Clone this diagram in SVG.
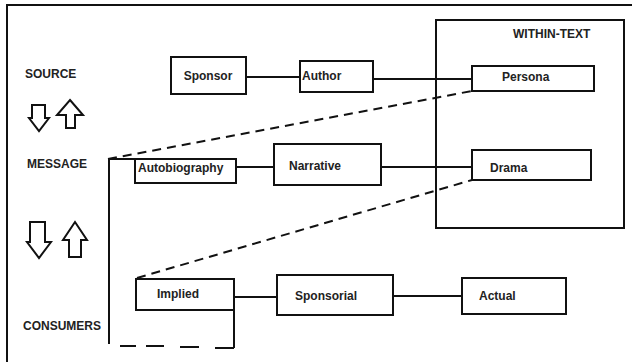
<svg xmlns="http://www.w3.org/2000/svg" width="632" height="362" viewBox="0 0 632 362">
<style>
.box{fill:#fff;stroke:#111;stroke-width:2}
.ln{fill:none;stroke:#111;stroke-width:2}
.dash{fill:none;stroke:#111;stroke-width:2;stroke-dasharray:9 6}
.t{font-family:"Liberation Sans",Arial,sans-serif;font-weight:bold;font-size:12px;fill:#222}
.arr{fill:#fff;stroke:#111;stroke-width:2;stroke-linejoin:miter}
</style>
<rect width="632" height="362" fill="#fff"/>
<path class="ln" d="M7,362 V5 H632" stroke-width="1.5"/>
<g id="within-text">
<rect x="436" y="20" width="188" height="208" style="fill:none;stroke:#111;stroke-width:2"/>
<text class="t" x="513" y="38">WITHIN-TEXT</text>
</g>
<g id="connectors">
<line class="ln" x1="246" y1="77" x2="300" y2="77"/>
<line class="ln" x1="373" y1="79" x2="472" y2="79"/>
<line class="ln" x1="236" y1="167" x2="274" y2="167"/>
<line class="ln" x1="381" y1="167" x2="472" y2="167"/>
<line class="ln" x1="234" y1="297" x2="277" y2="297"/>
<line class="ln" x1="393" y1="296" x2="462" y2="296"/>
<path class="dash" d="M108,159 L472,91"/>
<path class="dash" d="M137,278 L472,180"/>
<path class="ln" d="M109,344 V159 H135"/>
<path class="ln" d="M234,310 V348"/>
<path class="ln" d="M120,346 H136 M146,346 H164 M180,347 H199 M215,348 H234" stroke-width="2"/>
</g>
<g id="source"><text class="t" x="25" y="78">SOURCE</text></g>
<g id="message"><text class="t" x="27" y="168">MESSAGE</text></g>
<g id="consumers"><text class="t" x="23" y="330">CONSUMERS</text></g>
<g id="arrows-top">
<path class="arr" d="M32,105 H45 V118 H49 L39,131 L29,118 H32 Z"/>
<path class="arr" d="M70,100 L83,115 H75 V128 H66 V115 H57 Z"/>
</g>
<g id="arrows-bottom">
<path class="arr" d="M30,222 H45 V242 H51 L39,258 L27,242 H30 Z"/>
<path class="arr" d="M75,222 L87,240 H81 V257 H69 V240 H63 Z"/>
</g>
<g id="sponsor"><rect class="box" x="171" y="57" width="75" height="37"/><text class="t" x="208" y="80" text-anchor="middle">Sponsor</text></g>
<g id="author"><rect class="box" x="300" y="61" width="73" height="31"/><text class="t" x="302" y="80">Author</text></g>
<g id="persona"><rect class="box" x="472" y="66" width="122" height="25"/><text class="t" x="502" y="81">Persona</text></g>
<g id="autobiography"><rect class="box" x="135" y="159" width="101" height="24"/><text class="t" x="138" y="172">Autobiography</text></g>
<g id="narrative"><rect class="box" x="274" y="144" width="107" height="41"/><text class="t" x="289" y="170">Narrative</text></g>
<g id="drama"><rect class="box" x="472" y="150" width="119" height="30"/><text class="t" x="490" y="172">Drama</text></g>
<g id="implied"><rect class="box" x="136" y="279" width="98" height="31"/><text class="t" x="157" y="298">Implied</text></g>
<g id="sponsorial"><rect class="box" x="277" y="275" width="116" height="40"/><text class="t" x="295" y="300">Sponsorial</text></g>
<g id="actual"><rect class="box" x="462" y="278" width="104" height="36"/><text class="t" x="479" y="300">Actual</text></g>
</svg>
